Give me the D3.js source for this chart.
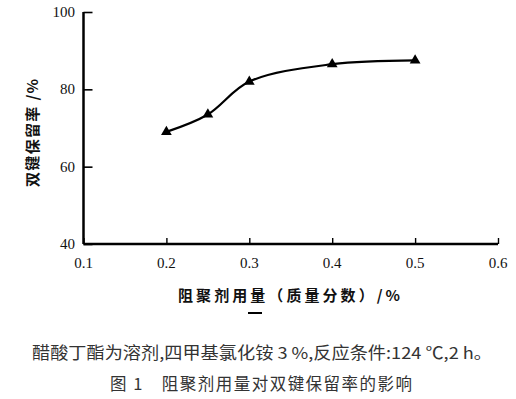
<!DOCTYPE html>
<html><head><meta charset="utf-8">
<script src="https://cdn.jsdelivr.net/npm/d3@7"></script>
<style>body{margin:0;background:#fff}svg{display:block}
.num{font-family:"Times New Roman","Liberation Serif","DejaVu Serif",serif;font-size:15px}</style>
</head><body>
<svg id="c" width="516" height="399"></svg>
<script>
const dosage = [0.2, 0.25, 0.3, 0.4, 0.5];
const retention = [69, 73.5, 82, 86.5, 87.5];
const xTicks = [0.1, 0.2, 0.3, 0.4, 0.5, 0.6];
const yTicks = [40, 60, 80, 100];
const yTitle = "双键保留率 /%";
const xTitle = "阻聚剂用量（质量分数）/%";
const caption1 = "醋酸丁酯为溶剂,四甲基氯化铵 3 %,反应条件:124  ℃,2 h。";
const caption2 = "图 1　阻聚剂用量对双键保留率的影响";

const svg = d3.select("#c");
const x = d3.scaleLinear().domain([0.1, 0.6]).range([83.5, 498]);
const y = d3.scaleLinear().domain([40, 100]).range([244, 12]);

// axes
const yAxis = d3.axisRight(y).tickValues(yTicks).tickSize(9).tickFormat("");
const gy = svg.append("g").attr("transform", `translate(${x(0.1)},0)`).call(yAxis);
gy.select(".domain").attr("stroke", "#000").attr("stroke-width", 2.5).attr("d", `M0,${y(100)}V${y(40)}`);
gy.selectAll(".tick line").attr("stroke", "#000").attr("stroke-width", 1.6);

const xAxis = d3.axisTop(x).tickValues(xTicks).tickSize(6).tickFormat("");
const gx = svg.append("g").attr("transform", `translate(0,${y(40)})`).call(xAxis);
gx.select(".domain").attr("stroke", "#000").attr("stroke-width", 2.5).attr("d", `M${x(0.1)},0H${x(0.6)}`);
gx.selectAll(".tick line").attr("stroke", "#000").attr("stroke-width", 1.4);

// tick labels
svg.append("g").selectAll("text").data(yTicks).join("text")
  .attr("class", "num")
  .attr("x", 75).attr("y", d => y(d) + 5)
  .attr("text-anchor", "end")
  .attr("fill", "#111").text(d => d);
svg.append("g").selectAll("text").data(xTicks).join("text")
  .attr("class", "num")
  .attr("x", d => x(d)).attr("y", 268)
  .attr("text-anchor", "middle")
  .attr("fill", "#111").text(d => d.toFixed(1));

// line
const pts = dosage.map((d, i) => [d, retention[i]]);
const line = d3.line().x(d => x(d[0])).y(d => y(d[1])).curve(d3.curveCatmullRom.alpha(0.5));
svg.append("path").datum(pts).attr("d", line)
  .attr("fill", "none").attr("stroke", "#000").attr("stroke-width", 2.2);
svg.append("g").selectAll("path").data(pts).join("path")
  .attr("transform", d => `translate(${x(d[0])},${y(d[1])})`)
  .attr("d", d3.symbol(d3.symbolTriangle, 50))
  .attr("fill", "#000");

// axis titles
svg.append("text")
  .attr("transform", "translate(38,133) rotate(-90)")
  .attr("text-anchor", "middle")
  .style("font-family", "'Noto Sans CJK SC'").style("font-weight", "bold").style("font-size", "15px")
  .attr("textLength", 108).attr("lengthAdjust", "spacing")
  .attr("fill", "#111").text(yTitle);
svg.append("text")
  .attr("x", 178).attr("y", 301)
  .style("font-family", "'Noto Sans CJK SC'").style("font-weight", "bold").style("font-size", "15px")
  .attr("textLength", 222).attr("lengthAdjust", "spacing")
  .attr("fill", "#111").text(xTitle);
svg.append("line").attr("x1", 248).attr("x2", 262).attr("y1", 313).attr("y2", 313)
  .attr("stroke", "#000").attr("stroke-width", 2);

// captions
svg.append("text")
  .attr("x", 32).attr("y", 359)
  .style("font-family", "'Noto Sans CJK SC'").style("font-size", "16.5px")
  .attr("textLength", 460).attr("lengthAdjust", "spacingAndGlyphs")
  .attr("fill", "#333").text(caption1);
svg.append("text")
  .attr("x", 110).attr("y", 390)
  .style("font-family", "'Noto Sans CJK SC'").style("font-size", "16.5px")
  .attr("textLength", 302).attr("lengthAdjust", "spacing")
  .attr("fill", "#333").text(caption2);
</script>
</body></html>
